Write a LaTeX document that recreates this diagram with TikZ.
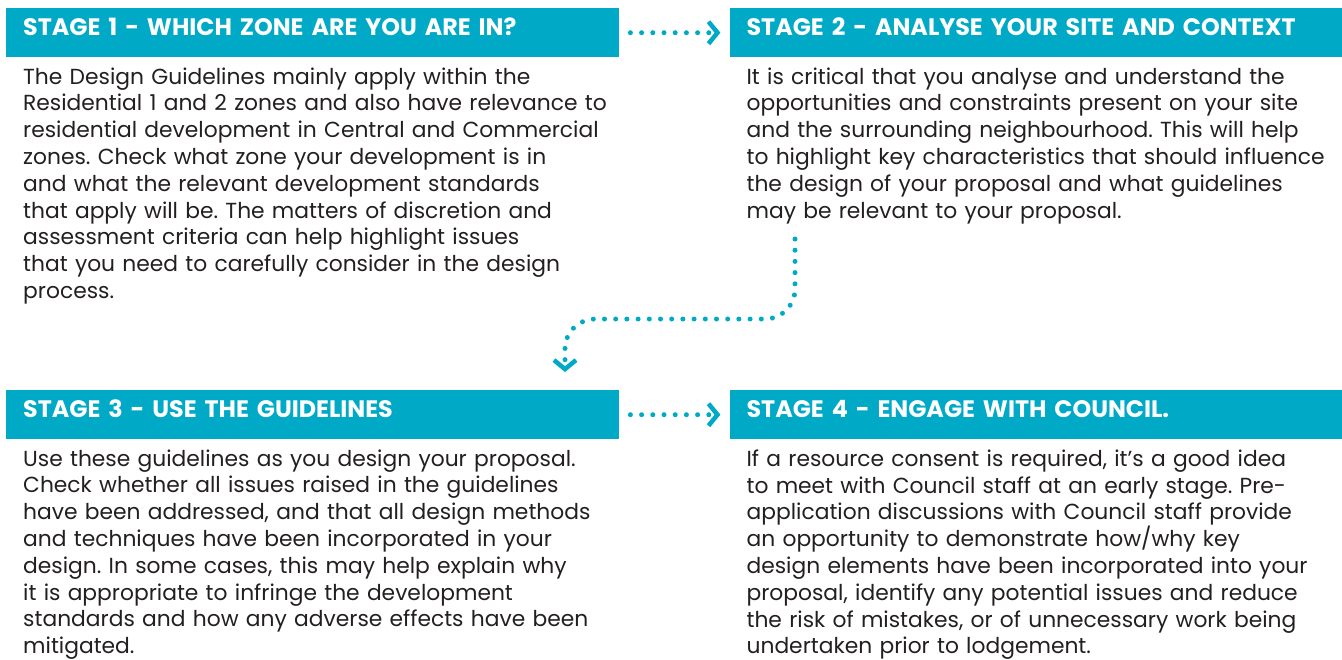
\documentclass[tikz,border=0pt]{standalone}
\usepackage{fontspec}
\setmainfont{Poppins}
\frenchspacing
\usetikzlibrary{positioning,arrows.meta}
\definecolor{stageteal}{RGB}{0,170,199}
\definecolor{bodyink}{RGB}{35,31,32}
\tikzset{
  stagehead/.style={
    fill=stageteal,
    text=white,
    font=\fontsize{23.8}{26}\selectfont\bfseries,
    inner xsep=17pt,
    inner ysep=10pt,
    text height=17pt,
    text depth=12pt,
    text width=579pt,
    align=left
  },
  stagebody/.style={
    text=bodyink,
    font=\fontsize{21.8}{26.8}\selectfont,
    inner xsep=17pt,
    inner ysep=0pt,
    text width=610pt,
    align=left
  },
  flowarrow/.style={
    draw=stageteal,
    line width=5pt,
    line cap=round,
    dash pattern=on 0pt off 11.2pt,
    -{Straight Barb[length=9pt,width=22pt,line width=4.5pt]}
  }
}
\begin{document}
\begin{tikzpicture}[x=1pt,y=1pt]
  \useasboundingbox (0,0) rectangle (1342,-659);
  \node[stagehead,anchor=north west] (h1) at (6,-8) {STAGE 1 - WHICH ZONE ARE YOU ARE IN?};
  \node[stagehead,right=110pt of h1] (h2) {STAGE 2 - ANALYSE YOUR SITE AND CONTEXT};
  \node[stagehead,anchor=north west] (h3) at (6,-390) {STAGE 3 - USE THE GUIDELINES};
  \node[stagehead,right=110pt of h3] (h4) {STAGE 4 - ENGAGE WITH COUNCIL.};

  \node[stagebody,below=10pt of h1.south west,anchor=north west] (b1) {The Design Guidelines mainly apply within the\\
    Residential 1 and 2 zones and also have relevance to\\
    residential development in Central and Commercial\\
    zones. Check what zone your development is in\\
    and what the relevant development standards\\
    that apply will be. The matters of discretion and\\
    assessment criteria can help highlight issues\\
    that you need to carefully consider in the design\\
    process.};
  \node[stagebody,below=10pt of h2.south west,anchor=north west] (b2) {It is critical that you analyse and understand the\\
    opportunities and constraints present on your site\\
    and the surrounding neighbourhood. This will help\\
    to highlight key characteristics that should influence\\
    the design of your proposal and what guidelines\\
    may be relevant to your proposal.};
  \node[stagebody,below=10pt of h3.south west,anchor=north west] (b3) {Use these guidelines as you design your proposal.\\
    Check whether all issues raised in the guidelines\\
    have been addressed, and that all design methods\\
    and techniques have been incorporated in your\\
    design. In some cases, this may help explain why\\
    it is appropriate to infringe the development\\
    standards and how any adverse effects have been\\
    mitigated.};
  \node[stagebody,below=10pt of h4.south west,anchor=north west] (b4) {If a resource consent is required, it’s a good idea\\
    to meet with Council staff at an early stage. Pre-\\
    application discussions with Council staff provide\\
    an opportunity to demonstrate how/why key\\
    design elements have been incorporated into your\\
    proposal, identify any potential issues and reduce\\
    the risk of mistakes, or of unnecessary work being\\
    undertaken prior to lodgement.};

  % stage links
  \draw[flowarrow,shorten <=11pt,shorten >=9pt] (h1) -- (h2);
  \draw[flowarrow,shorten <=11pt,shorten >=9pt] (h3) -- (h4);
  \coordinate (c2) at (795,-239);
  \coordinate (c3) at (565,-372);
  \draw[flowarrow,rounded corners=30pt] (c2) |- ([yshift=53pt]c3) -- (c3);
\end{tikzpicture}
\end{document}
